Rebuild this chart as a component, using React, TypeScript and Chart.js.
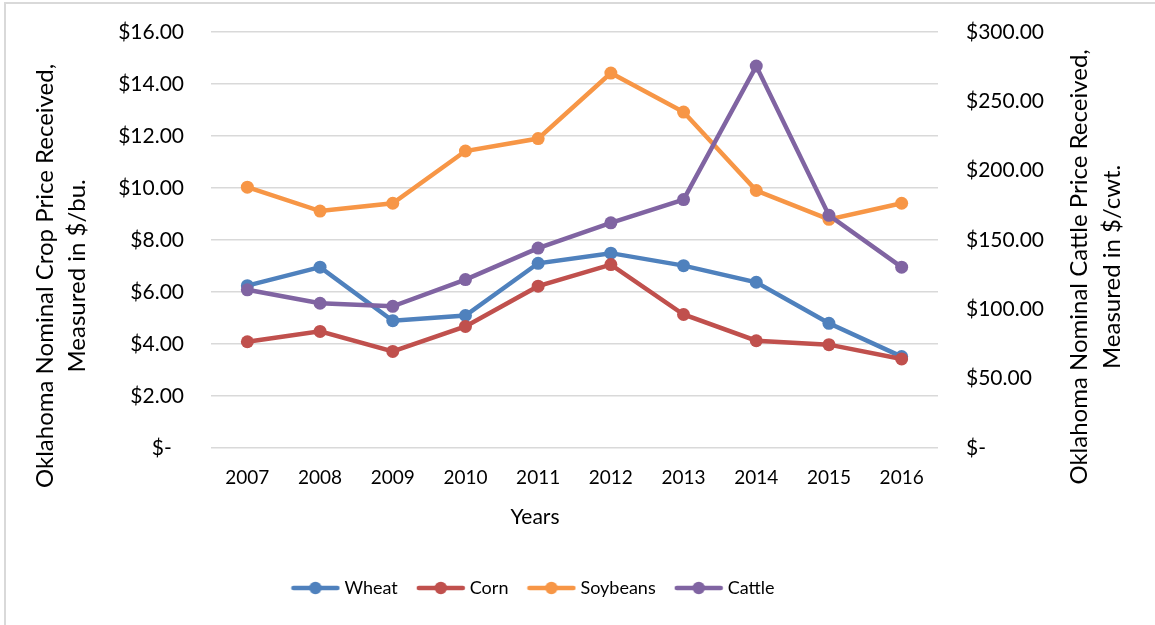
import React, { useEffect, useRef } from "react";
import { Chart, registerables } from "chart.js";

Chart.register(...registerables);

// Oklahoma nominal prices received, 2007–2016
const years = ["2007", "2008", "2009", "2010", "2011", "2012", "2013", "2014", "2015", "2016"];
const wheat = [6.24, 6.95, 4.89, 5.09, 7.1, 7.49, 7.01, 6.37, 4.79, 3.51];
const corn = [4.08, 4.48, 3.71, 4.67, 6.22, 7.05, 5.13, 4.12, 3.97, 3.42];
const soybeans = [10.03, 9.11, 9.41, 11.42, 11.9, 14.42, 12.92, 9.9, 8.79, 9.41];
const cattle = [114.0, 104.3, 102.1, 121.4, 144.1, 162.3, 179.1, 275.4, 167.7, 130.3];

// Axis ranges ($/bu. on the left, $/cwt. on the right)
const cropAxis = { min: 0, max: 16, step: 2 };
const cattleAxis = { min: 0, max: 300, step: 50 };

const seriesNames = ["Wheat", "Corn", "Soybeans", "Cattle"];
const seriesColors = ["#4F81BD", "#C0504D", "#F79646", "#8064A2"];

const leftTitle = ["Oklahoma Nominal Crop Price Received,", "Measured in $/bu."];
const rightTitle = ["Oklahoma Nominal Cattle Price Received,", "Measured in $/cwt."];
const xTitle = "Years";

const FONT = "Lato, 'Open Sans', sans-serif";
const TEXT = "#000000";
const GRID = "#d9d9d9";
const CLEAR = "rgba(0,0,0,0)";

// Accounting-style money labels: zero shows as "$-"
const money = (v: number | string) => {
  const n = Number(v);
  return n === 0 ? "$-\u2007" : "$" + n.toFixed(2);
};

// Line-with-marker swatch used as the legend symbol
function legendSwatch(color: string): HTMLCanvasElement {
  const c = document.createElement("canvas");
  c.width = 50;
  c.height = 14;
  const g = c.getContext("2d")!;
  g.strokeStyle = color;
  g.lineWidth = 4.5;
  g.lineCap = "round";
  g.beginPath();
  g.moveTo(3, 7);
  g.lineTo(47, 7);
  g.stroke();
  g.fillStyle = color;
  g.beginPath();
  g.arc(25, 7, 6.2, 0, Math.PI * 2);
  g.fill();
  return c;
}

// Two-line vertical axis titles, reading bottom to top on both sides
const sideTitles = {
  id: "sideTitles",
  afterDraw(chart: any) {
    const { ctx, chartArea } = chart;
    const midY = (chartArea.top + chartArea.bottom) / 2;
    const drawLines = (lines: string[], baseX: number, cy: number, gap: number) => {
      lines.forEach((line, i) => {
        ctx.save();
        ctx.translate(baseX + i * gap, cy);
        ctx.rotate(-Math.PI / 2);
        ctx.fillText(line, 0, 0);
        ctx.restore();
      });
    };
    ctx.save();
    ctx.font = `24px ${FONT}`;
    ctx.fillStyle = TEXT;
    ctx.textAlign = "center";
    ctx.textBaseline = "alphabetic";
    drawLines(leftTitle, chartArea.left - 158, midY + 36, 32);
    drawLines(rightTitle, chartArea.right + 149, midY + 27, 33);
    ctx.restore();
  },
};

export default function App() {
  const canvasRef = useRef<HTMLCanvasElement | null>(null);

  useEffect(() => {
    document.body.style.margin = "0";
    const canvas = canvasRef.current;
    if (!canvas) return;
    const series = [wheat, corn, soybeans, cattle];
    const swatches = seriesColors.map(legendSwatch);

    const chart = new Chart(canvas, {
      type: "line",
      data: {
        labels: years,
        datasets: series.map((values, i) => ({
          label: seriesNames[i],
          data: values,
          yAxisID: i === 3 ? "yCattle" : "yCrop",
          borderColor: seriesColors[i],
          backgroundColor: seriesColors[i],
          pointBackgroundColor: seriesColors[i],
          pointBorderColor: seriesColors[i],
          borderWidth: 4.5,
          pointRadius: 6.5,
          pointBorderWidth: 0,
          pointHoverRadius: 6.5,
          tension: 0,
          fill: false,
          order: 4 - i,
        })),
      },
      options: {
        responsive: false,
        animation: false,
        devicePixelRatio: 1,
        layout: { padding: { left: 0, right: 85, top: 32, bottom: 18 } },
        scales: {
          x: {
            type: "category",
            offset: true,
            grid: { display: false, drawTicks: false },
            border: { display: false },
            ticks: { color: TEXT, font: { family: FONT, size: 19 }, padding: 19, maxRotation: 0 },
            afterFit: (scale: any) => {
              scale.height = 40;
            },
          },
          yCrop: {
            position: "left",
            min: cropAxis.min,
            max: cropAxis.max,
            grid: { color: GRID, lineWidth: 1.5, drawTicks: true, tickLength: 27, tickColor: CLEAR },
            border: { display: false },
            ticks: {
              stepSize: cropAxis.step,
              color: TEXT,
              font: { family: FONT, size: 21 },
              padding: 0,
              callback: (v: any) => money(v),
            },
            afterFit: (scale: any) => {
              scale.width = 211;
            },
          },
          yCattle: {
            position: "right",
            min: cattleAxis.min,
            max: cattleAxis.max,
            grid: { display: false, drawOnChartArea: false, drawTicks: true, tickLength: 28, tickColor: CLEAR },
            border: { display: false },
            ticks: {
              stepSize: cattleAxis.step,
              color: TEXT,
              font: { family: FONT, size: 21 },
              padding: 0,
              callback: (v: any) => money(v),
            },
            afterFit: (scale: any) => {
              scale.width = 132;
            },
          },
        },
        plugins: {
          tooltip: { enabled: false },
          title: {
            display: true,
            text: xTitle,
            position: "bottom",
            weight: 500,
            color: TEXT,
            font: { family: FONT, size: 21, weight: "normal" },
            padding: { top: 17, bottom: 26 },
          } as any,
          legend: {
            display: true,
            position: "bottom",
            labels: {
              usePointStyle: true,
              pointStyleWidth: 40,
              padding: 23,
              color: TEXT,
              font: { family: FONT, size: 18 },
              generateLabels: (ch: any) =>
                ch.data.datasets.map((ds: any, i: number) => ({
                  text: ds.label,
                  fillStyle: ds.borderColor,
                  strokeStyle: ds.borderColor,
                  lineWidth: 0,
                  pointStyle: swatches[i],
                  fontColor: TEXT,
                  hidden: false,
                  datasetIndex: i,
                })),
            },
          },
        },
      },
      plugins: [sideTitles],
    } as any);

    return () => chart.destroy();
  }, []);

  return (
    <div style={{ position: "relative", width: 1155, height: 625, overflow: "hidden", background: "#fff" }}>
      <div
        style={{
          position: "absolute",
          left: 4,
          top: 2,
          width: 1300,
          height: 800,
          borderLeft: `2px solid ${GRID}`,
          borderTop: `2px solid ${GRID}`,
        }}
      />
      <canvas ref={canvasRef} width={1155} height={625} style={{ position: "absolute", left: 0, top: 0 }} />
    </div>
  );
}
